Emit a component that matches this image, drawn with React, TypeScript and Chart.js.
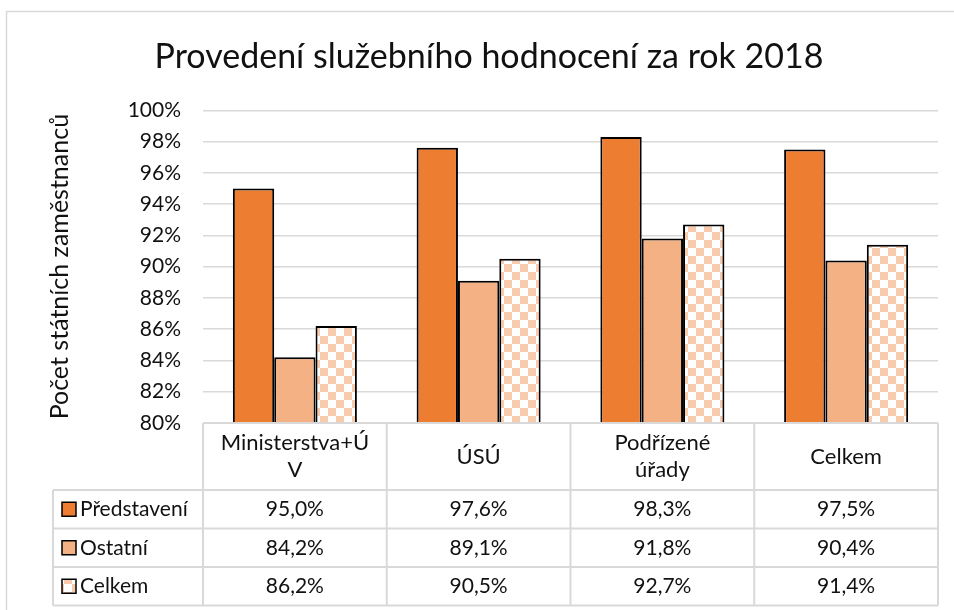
import React, { useEffect, useRef } from "react";
import { Chart, registerables } from "chart.js";

Chart.register(...registerables);

// ---- data ----
const categoryLines: string[][] = [["Ministerstva+Ú", "V"], ["ÚSÚ"], ["Podřízené", "úřady"], ["Celkem"]];
const seriesNames = ["Představení", "Ostatní", "Celkem"];
const predstaveni = [95.0, 97.6, 98.3, 97.5];
const ostatni = [84.2, 89.1, 91.8, 90.4];
const celkem = [86.2, 90.5, 92.7, 91.4];
const yMin = 80;
const yMax = 100;
const yStep = 2;
const chartTitle = "Provedení služebního hodnocení za rok 2018";
const yAxisTitle = "Počet státních zaměstnanců";

const FONT = "Lato, 'Open Sans', sans-serif";
const GRID = "#d9d9d9";
const TEXT = "#111111";

function makeChecker(): CanvasPattern | string {
  const c = document.createElement("canvas");
  c.width = 16;
  c.height = 16;
  const g = c.getContext("2d");
  if (!g) return "#F8CBAD";
  g.fillStyle = "#ffffff";
  g.fillRect(0, 0, 16, 16);
  g.fillStyle = "#F8CBAD";
  g.fillRect(0, 0, 8, 8);
  g.fillRect(8, 8, 8, 8);
  const p = g.createPattern(c, "repeat");
  return p || "#F8CBAD";
}

const fmt = (v: number) => v.toFixed(1).replace(".", ",") + "%";

export default function App() {
  const ref = useRef<HTMLCanvasElement | null>(null);

  useEffect(() => {
    const canvas = ref.current;
    if (!canvas) return;
    const checker = makeChecker();
    const seriesData = [predstaveni, ostatni, celkem];
    const fills: any[] = ["#ED7D31", "#F4B183", checker];

    const framePlugin = {
      id: "frame",
      beforeDraw(chart: any) {
        const { ctx, width, height } = chart;
        ctx.save();
        ctx.fillStyle = "#ffffff";
        ctx.fillRect(0, 0, width, height);
        ctx.strokeStyle = GRID;
        ctx.lineWidth = 1.5;
        ctx.strokeRect(6.5, 11.5, width + 20, height + 20);
        ctx.restore();
      },
    };

    const tablePlugin = {
      id: "dataTable",
      afterDraw(chart: any) {
        const { ctx, chartArea } = chart;
        const left = chartArea.left;
        const right = chartArea.right;
        const top = chartArea.bottom;
        const n = categoryLines.length;
        const colW = (right - left) / n;
        const headerBottom = top + 67;
        const rowH = 38.5;
        const legendLeft = 53;
        const bottom = headerBottom + rowH * seriesNames.length;

        ctx.save();
        ctx.strokeStyle = GRID;
        ctx.lineWidth = 2;
        ctx.beginPath();
        ctx.moveTo(left, top);
        ctx.lineTo(right, top);
        for (let r = 0; r <= seriesNames.length; r++) {
          const y = headerBottom + r * rowH;
          ctx.moveTo(legendLeft, y);
          ctx.lineTo(right, y);
        }
        ctx.moveTo(legendLeft, headerBottom);
        ctx.lineTo(legendLeft, bottom);
        for (let i = 0; i <= n; i++) {
          const x = left + i * colW;
          ctx.moveTo(x, top);
          ctx.lineTo(x, bottom);
        }
        ctx.stroke();

        ctx.fillStyle = TEXT;
        ctx.textAlign = "center";
        ctx.textBaseline = "middle";
        ctx.font = `22px ${FONT}`;
        for (let i = 0; i < n; i++) {
          const cx = left + (i + 0.5) * colW;
          const lines = categoryLines[i];
          const lh = 27;
          const cy = (top + headerBottom) / 2;
          lines.forEach((ln, k) => {
            ctx.fillText(ln, cx, cy + (k - (lines.length - 1) / 2) * lh);
          });
        }
        ctx.font = `21px ${FONT}`;
        for (let r = 0; r < seriesNames.length; r++) {
          const cy = headerBottom + (r + 0.5) * rowH;
          for (let i = 0; i < n; i++) {
            const cx = left + (i + 0.5) * colW;
            ctx.fillText(fmt(seriesData[r][i]), cx, cy);
          }
          const sx = 62;
          const sz = 14;
          ctx.fillStyle = fills[r];
          ctx.fillRect(sx, cy - sz / 2, sz, sz);
          ctx.strokeStyle = "#000";
          ctx.lineWidth = 1.5;
          ctx.strokeRect(sx, cy - sz / 2, sz, sz);
          ctx.fillStyle = TEXT;
          ctx.textAlign = "left";
          ctx.fillText(seriesNames[r], 80, cy);
          ctx.textAlign = "center";
        }
        ctx.restore();
      },
    };

    const chart = new Chart(canvas, {
      type: "bar",
      data: {
        labels: categoryLines.map((l) => l.join("")),
        datasets: seriesNames.map((name, i) => ({
          label: name,
          data: seriesData[i],
          backgroundColor: fills[i],
          borderColor: "#000000",
          borderWidth: 2,
          borderSkipped: "start",
          base: yMin,
          categoryPercentage: 0.675,
          barPercentage: 1,
        })) as any,
      },
      options: {
        responsive: false,
        animation: false,
        layout: { padding: { left: 40, right: 16, top: 0, bottom: 187 } },
        plugins: {
          legend: { display: false },
          tooltip: { enabled: false },
          title: {
            display: true,
            text: chartTitle,
            color: TEXT,
            font: { family: FONT, size: 34, weight: "normal" },
            padding: { top: 36.5, bottom: 33 },
          },
        },
        scales: {
          x: { display: false },
          y: {
            min: yMin,
            max: yMax,
            afterFit(scale: any) {
              scale.width = 163;
            },
            border: { display: false },
            grid: { color: GRID, lineWidth: 1.5, drawTicks: false },
            ticks: {
              stepSize: yStep,
              padding: 22,
              color: TEXT,
              font: { family: FONT, size: 21 },
              callback: (v: any) => `${v}%`,
            },
            title: {
              display: true,
              text: yAxisTitle,
              color: TEXT,
              font: { family: FONT, size: 25 },
              padding: { top: 5, bottom: 0 },
            },
          },
        },
      },
      plugins: [framePlugin, tablePlugin],
    } as any);

    return () => chart.destroy();
  }, []);

  return (
    <div style={{ position: "fixed", left: 0, top: 0, width: 954, height: 610, background: "#fff" }}>
      <canvas ref={ref} width={954} height={610} style={{ width: 954, height: 610, display: "block" }} />
    </div>
  );
}
